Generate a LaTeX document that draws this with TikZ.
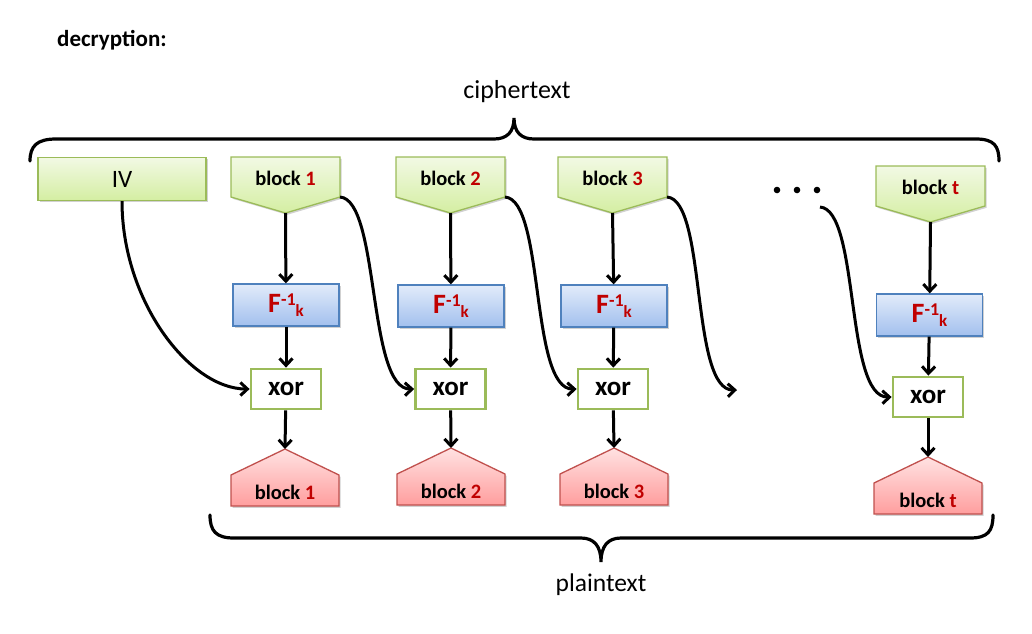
\documentclass[tikz,border=0pt]{standalone}
\usepackage{fontspec}
\setmainfont{Carlito}
\usetikzlibrary{arrows.meta,calc}
\definecolor{grnB}{HTML}{9BBB59}
\definecolor{grnT}{HTML}{F2F9E4}
\definecolor{grnBot}{HTML}{D4EEA2}
\definecolor{bluB}{HTML}{4F81BD}
\definecolor{bluT}{HTML}{E2EBFA}
\definecolor{bluBot}{HTML}{A2C0EE}
\definecolor{redB}{HTML}{C0504D}
\definecolor{redT}{HTML}{FFE2E2}
\definecolor{redBot}{HTML}{FF9E9E}
\definecolor{dred}{HTML}{C00000}
\newcommand\fsz[1]{\fontsize{#1}{#1}\selectfont}
\newcommand\gblock[4]{%
  \path[gshape] (#2-54.5,#3) -- (#2+54.5,#3) -- (#2+54.5,#3+40) -- (#2,#3+56) -- (#2-54.5,#3+40) -- cycle;
  \node[btext] (#1) at (#2,#3+21) {#4};
  \coordinate (#1-tip) at (#2,#3+56);
  \coordinate (#1-cor) at (#2+54.5,#3+40);
}
\newcommand\rblock[4]{%
  \path[rshape] (#2,#3) -- (#2+54,#3+26) -- (#2+54,#3+57) -- (#2-54,#3+57) -- (#2-54,#3+26) -- cycle;
  \node[btext] (#1) at (#2,#3+43) {#4};
  \coordinate (#1-tip) at (#2,#3);
}
\newcommand\finv{{\color{dred}F\raisebox{7pt}{\fsz{18}-1}\raisebox{-4.5pt}{\fsz{17}k}}}
\begin{document}
\begin{tikzpicture}[x=1pt,y=-1pt,
  shad/.style={preaction={fill=black,opacity=0.18,transform canvas={xshift=1.6pt,yshift=-1.8pt}}},
  gshape/.style={draw=grnB,line width=1.3pt,top color=grnT,bottom color=grnBot,shad},
  rshape/.style={draw=redB,line width=1.3pt,top color=redT,bottom color=redBot,shad},
  btext/.style={font=\bfseries\fsz{20.5},inner sep=0pt},
  fbox/.style={draw=bluB,line width=1.3pt,top color=bluT,bottom color=bluBot,shad,
     minimum width=106pt,minimum height=42pt,inner sep=0pt,font=\bfseries\fsz{28}},
  xorbox/.style={draw=grnB,line width=2.8pt,fill=white,minimum width=70pt,minimum height=40pt,
     inner sep=0pt,font=\bfseries\fsz{27}},
  ivbox/.style={draw=grnB,line width=1.3pt,top color=grnT,bottom color=grnBot,shad,
     minimum width=168pt,minimum height=43pt,inner sep=0pt,font=\fsz{25}},
  arr/.style={line width=3pt,-{Straight Barb[length=7pt,width=13pt]}},
  brace/.style={line width=3.2pt,line cap=round},
  lbl/.style={font=\fsz{26},inner sep=0pt}]
\useasboundingbox (0,0) rectangle (1032,633);

\node[anchor=west,font=\bfseries\fsz{23},inner sep=0pt] (title) at (57,40) {decryption:};

% top brace
\draw[brace] (30,161) .. controls (30,146) and (37,139) .. (56,139) -- (494,139)
  .. controls (507,139) and (514,132) .. (514,118)
  .. controls (514,132) and (521,139) .. (534,139) -- (976,139)
  .. controls (994,139) and (999,146) .. (999,161);
\node[lbl] (ct) at (517,92) {ciphertext};

% bottom brace
\draw[brace] (210,515) .. controls (210,531) and (216,538) .. (234,538) -- (581,538)
  .. controls (594,538) and (601,546) .. (601,562)
  .. controls (601,546) and (608,538) .. (621,538) -- (970,538)
  .. controls (988,538) and (993,531) .. (993,515);
\node[lbl,font=\fsz{25.5}] (pt) at (601,585) {plaintext};

% IV
\node[ivbox] (iv) at (122,179) {IV};

% ciphertext blocks
\gblock{c1}{285.5}{157}{block {\color{dred}1}}
\gblock{c2}{450.5}{157}{block {\color{dred}2}}
\gblock{c3}{612.5}{157}{block {\color{dred}3}}
\gblock{ct}{930.5}{166}{block {\color{dred}t}}

% F boxes
\node[fbox] (f1) at (286,305) {\finv};
\node[fbox] (f2) at (451,306) {\finv};
\node[fbox] (f3) at (614,306) {\finv};
\node[fbox] (ft) at (929.5,315) {\finv};

% xor boxes
\node[xorbox] (x1) at (286,389) {xor};
\node[xorbox] (x2) at (450.5,389) {xor};
\node[xorbox] (x3) at (613,389) {xor};
\node[xorbox] (xt) at (928,397) {xor};

% plaintext blocks
\rblock{p1}{285}{449}{block {\color{dred}1}}
\rblock{p2}{451}{448}{block {\color{dred}2}}
\rblock{p3}{614}{448}{block {\color{dred}3}}
\rblock{pt}{928}{457}{block {\color{dred}t}}

% dots
\fill (777,190) circle (3.3pt) (797,190) circle (3.3pt) (817,190) circle (3.3pt);
\coordinate (dots) at (820,207);
\coordinate (dang) at (737,390);

% vertical arrows
\foreach \c in {1,2,3,t}{
  \draw[arr] (c\c-tip) -- (f\c);
  \draw[arr] (f\c) -- (x\c);
  \draw[arr] (x\c) -- (p\c-tip);
}

% chaining arrows
\draw[arr] (iv.south) .. controls ($(iv.south)+(0,100)$) and ($(x1.west)+(-60,0)$) .. (x1.west);
\draw[arr] (c1-cor) .. controls ($(c1-cor)+(40,3)$) and ($(x2.west)+(-47,1)$) .. (x2.west);
\draw[arr] (c2-cor) .. controls ($(c2-cor)+(40,3)$) and ($(x3.west)+(-47,1)$) .. (x3.west);
\draw[arr] (c3-cor) .. controls ($(c3-cor)+(40,3)$) and ($(dang)+(-47,1)$) .. (dang);
\draw[arr] (dots) .. controls ($(dots)+(40,3)$) and ($(xt.west)+(-47,1)$) .. (xt.west);
\end{tikzpicture}
\end{document}
